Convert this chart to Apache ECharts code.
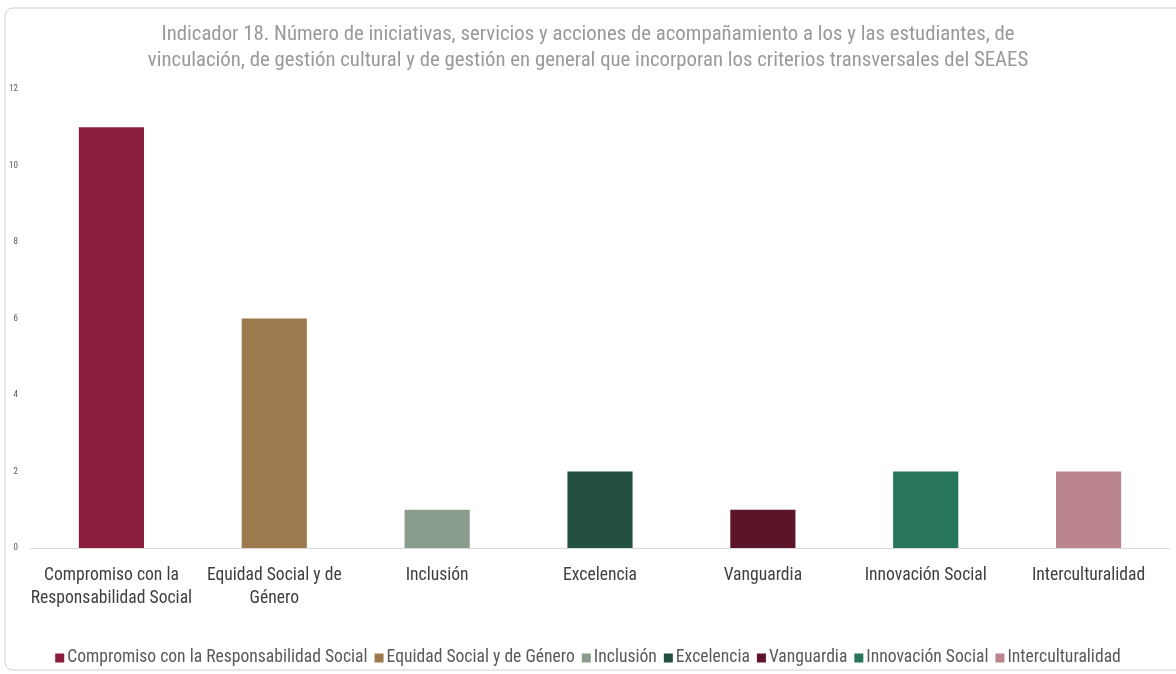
<!DOCTYPE html>
<html>
<head>
<meta charset="utf-8">
<script src="https://cdn.jsdelivr.net/npm/echarts@6/dist/echarts.min.js"></script>
<style>
  html, body { margin: 0; padding: 0; background: #fff; }
  #chart { width: 1176px; height: 674px; }
</style>
</head>
<body>
<div id="chart"></div>
<script>
// Criterios transversales del SEAES y número de iniciativas por criterio
const categories = [
  'Compromiso con la Responsabilidad Social',
  'Equidad Social y de Género',
  'Inclusión',
  'Excelencia',
  'Vanguardia',
  'Innovación Social',
  'Interculturalidad'
];
const axisLabels = [
  'Compromiso con la\nResponsabilidad Social',
  'Equidad Social y de\nGénero',
  'Inclusión',
  'Excelencia',
  'Vanguardia',
  'Innovación Social',
  'Interculturalidad'
];
const values = [11, 6, 1, 2, 1, 2, 2];
const colors = ['#8B1E3C', '#9C7A4D', '#8A9C8C', '#234F40', '#5B1428', '#27755A', '#BA858C'];
const yTicks = { min: 0, max: 12, interval: 2 };

const titleText = 'Indicador 18. Número de iniciativas, servicios y acciones de acompañamiento a los y las estudiantes, de\n' +
  'vinculación, de gestión cultural y de gestión en general que incorporan los criterios transversales del SEAES';

const narrow = '"Liberation Sans Narrow", "Arial Narrow", "Roboto Condensed", sans-serif';

// one series per criterion so each gets its own legend entry; stacking keeps bars centred
const series = categories.map((name, i) => ({
  name: name,
  type: 'bar',
  stack: 'total',
  barWidth: '40%',
  itemStyle: { color: colors[i] },
  data: values.map((v, j) => (j === i ? v : '-'))
}));

const chart = echarts.init(document.getElementById('chart'));
chart.setOption({
  animation: false,
  backgroundColor: '#ffffff',
  graphic: [{
    type: 'rect',
    shape: { x: 5, y: 8, width: 1185, height: 662, r: 8 },
    style: { fill: 'none', stroke: '#d0d0d0', lineWidth: 1 },
    silent: true,
    z: -1
  }],
  title: {
    text: titleText,
    left: 'center',
    top: 17,
    textStyle: {
      fontFamily: narrow,
      fontSize: 20.8,
      fontWeight: 'normal',
      color: '#999999',
      lineHeight: 26
    }
  },
  legend: {
    bottom: 2,
    left: 'center',
    itemWidth: 9,
    itemHeight: 9,
    itemGap: 7,
    icon: 'rect',
    textStyle: { fontFamily: narrow, fontSize: 17.6, color: '#595959', padding: [0, 0, 0, -2] },
    data: categories
  },
  grid: { left: 30, right: 6, top: 89, bottom: 126, containLabel: false },
  xAxis: {
    type: 'category',
    data: axisLabels,
    axisLine: { lineStyle: { color: '#d9d9d9' } },
    axisTick: { show: false },
    axisLabel: {
      interval: 0,
      fontFamily: narrow,
      fontSize: 17.6,
      color: '#404040',
      lineHeight: 23,
      margin: 16
    }
  },
  yAxis: {
    type: 'value',
    min: yTicks.min,
    max: yTicks.max,
    interval: yTicks.interval,
    axisLine: { show: false },
    axisTick: { show: false },
    splitLine: { show: false },
    axisLabel: { fontFamily: narrow, fontSize: 9, color: '#595959', margin: 12 }
  },
  series: series
});
</script>
</body>
</html>
